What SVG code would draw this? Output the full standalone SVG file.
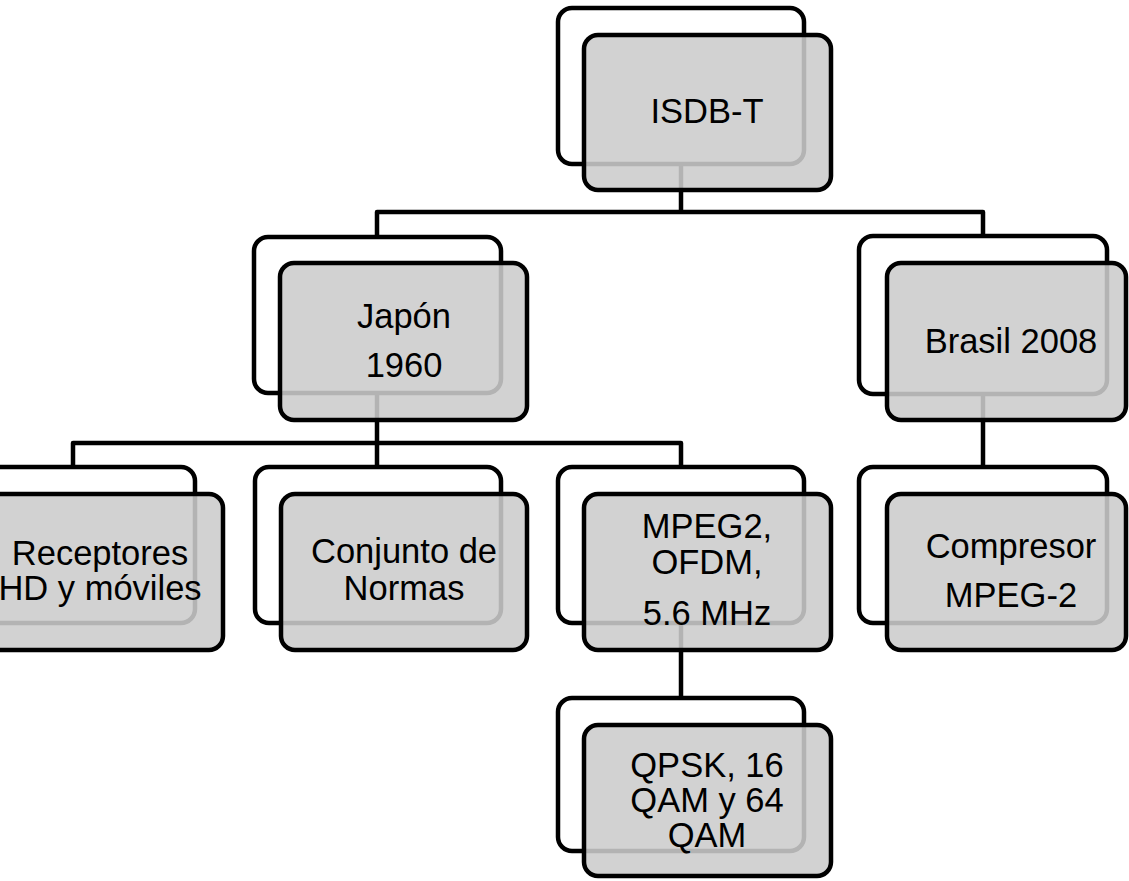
<svg xmlns="http://www.w3.org/2000/svg" width="1129" height="881" viewBox="0 0 1129 881">
  <style>
    .back { fill: #ffffff; stroke: #000000; stroke-width: 4.5; }
    .front { fill: #cccccc; fill-opacity: 0.88; stroke: #000000; stroke-width: 4.5; }
    .conn { fill: none; stroke: #000000; stroke-width: 4.5; stroke-linejoin: round; }
    .lbl { font-family: "Liberation Sans", Arial, sans-serif; font-size: 34.5px; fill: #000000; text-anchor: middle; }
  </style>
  <rect width="1129" height="881" fill="#ffffff"/>

  <!-- hierarchy links -->
  <g id="connectors">
    <path class="conn" d="M681 164 V212"/>
    <path class="conn" d="M377 237 V212 H983 V236"/>
    <path class="conn" d="M377 393 V443"/>
    <path class="conn" d="M73 467 V443 H681 V467"/>
    <path class="conn" d="M377 443 V467"/>
    <path class="conn" d="M983 394 V467"/>
    <path class="conn" d="M681 623 V698"/>
  </g>

  <g id="node-isdbt">
    <rect class="back" x="558" y="8" width="246" height="156" rx="14"/>
    <rect class="front" x="584" y="35" width="247" height="155" rx="14"/>
    <text class="lbl" x="707" y="123">ISDB-T</text>
  </g>

  <g id="node-japon">
    <rect class="back" x="254" y="237" width="247" height="156" rx="14"/>
    <rect class="front" x="280" y="263" width="247" height="157" rx="14"/>
    <text class="lbl" x="404" y="328">Japón</text>
    <text class="lbl" x="404" y="377">1960</text>
  </g>

  <g id="node-brasil">
    <rect class="back" x="859" y="236" width="248" height="158" rx="14"/>
    <rect class="front" x="887" y="263" width="239" height="157" rx="14"/>
    <text class="lbl" x="1011" y="353">Brasil 2008</text>
  </g>

  <g id="node-receptores">
    <rect class="back" x="-52" y="467" width="247" height="156" rx="14"/>
    <rect class="front" x="-24" y="494" width="247" height="156" rx="14"/>
    <text class="lbl" x="100" y="565">Receptores</text>
    <text class="lbl" x="100" y="600">HD y móviles</text>
  </g>

  <g id="node-conjunto">
    <rect class="back" x="255" y="467" width="246" height="156" rx="14"/>
    <rect class="front" x="281" y="494" width="246" height="156" rx="14"/>
    <text class="lbl" x="404" y="563">Conjunto de</text>
    <text class="lbl" x="404" y="600">Normas</text>
  </g>

  <g id="node-mpeg2">
    <rect class="back" x="558" y="467" width="246" height="156" rx="14"/>
    <rect class="front" x="584" y="494" width="247" height="156" rx="14"/>
    <text class="lbl" x="707" y="538">MPEG2,</text>
    <text class="lbl" x="707" y="574">OFDM,</text>
    <text class="lbl" x="707" y="625">5.6 MHz</text>
  </g>

  <g id="node-compresor">
    <rect class="back" x="859" y="467" width="248" height="156" rx="14"/>
    <rect class="front" x="887" y="494" width="239" height="156" rx="14"/>
    <text class="lbl" x="1011" y="558">Compresor</text>
    <text class="lbl" x="1011" y="607">MPEG-2</text>
  </g>

  <g id="node-qpsk">
    <rect class="back" x="558" y="698" width="246" height="153" rx="14"/>
    <rect class="front" x="584" y="725" width="247" height="151" rx="14"/>
    <text class="lbl" x="707" y="777">QPSK, 16</text>
    <text class="lbl" x="707" y="812">QAM y 64</text>
    <text class="lbl" x="707" y="847">QAM</text>
  </g>
</svg>
